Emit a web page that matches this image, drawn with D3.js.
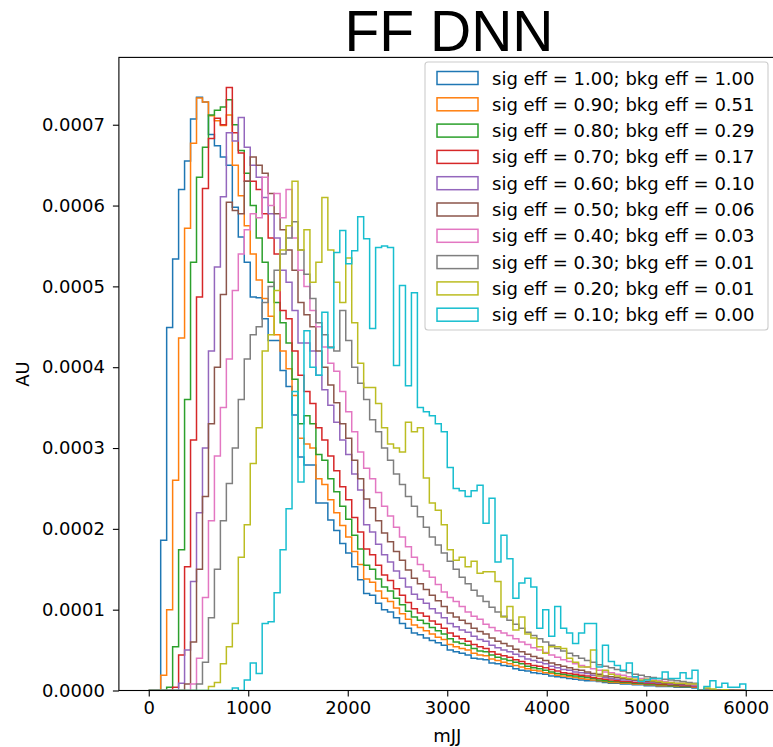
<!DOCTYPE html>
<html><head><meta charset="utf-8">
<script src="https://cdn.jsdelivr.net/npm/d3@7"></script>
<style>body{margin:0;background:#fff}svg{display:block}</style>
</head><body>
<svg id="chart" width="773" height="747"></svg>
<script>
// Histogram: 100 bins of width 60 over mJJ 0..6000. Values in units of 1e-6 AU.
const UNIT = 1e-6;
const binStart = 0, binWidth = 60, nBins = 100;
const sigEff = ["1.00","0.90","0.80","0.70","0.60","0.50","0.40","0.30","0.20","0.10"];
const bkgEff = ["1.00","0.51","0.29","0.17","0.10","0.06","0.03","0.01","0.01","0.00"];
const colors = ["#1f77b4","#ff7f0e","#2ca02c","#d62728","#9467bd","#8c564b","#e377c2","#7f7f7f","#bcbd22","#17becf"];
const xTicks = [0,1000,2000,3000,4000,5000,6000];
const yTicks = [0,0.0001,0.0002,0.0003,0.0004,0.0005,0.0006,0.0007];

const eff100 = [0,0,186,449,534,620,655,707,734,728,
 688,674,660,650,598,561,530,487,486,460,
 433,433,396,376,341,289,279,279,232,232,
 211,198,182,170,153,137,120,118,108,100,
 97,90,83,77,71,69,65,62,59,56,
 50,48,46,44,40,39,38,34,33,31,
 30,27,25,24,22,21,20,18,17,16,
 15,14,13,12,12,11,10,9,9,8,
 8,7,7,6,6,5,5,5,4,4,
 4,3,0,0,1,0,0,1,0,0];
const eff090 = [0,0,19,100,260,436,572,677,733,728,
 711,705,699,712,650,612,575,540,508,485,
 463,440,420,398,365,312,305,300,262,255,
 236,220,204,190,172,156,138,134,123,114,
 110,102,95,88,81,78,74,70,66,63,
 57,54,52,50,46,44,43,39,37,35,
 33,31,29,27,25,24,22,21,19,18,
 17,16,15,14,13,12,11,10,10,9,
 9,8,8,7,7,6,6,6,5,5,
 5,4,0,1,0,1,0,0,0,0];
const eff080 = [0,0,0,4,54,174,360,530,635,672,
 712,718,722,731,700,668,640,600,560,530,
 505,480,455,430,385,330,340,330,292,285,
 262,246,228,212,192,175,155,150,138,128,
 123,114,106,98,91,87,83,78,74,70,
 64,60,58,56,52,49,48,44,41,39,
 37,35,33,30,28,27,25,23,21,20,
 19,18,17,16,15,13,12,11,11,10,
 10,9,9,8,8,7,7,6,6,5,
 5,5,0,0,1,0,0,0,0,0];
const eff070 = [0,0,0,0,4,44,153,310,487,621,
 683,708,700,746,690,665,630,630,620,590,
 560,540,470,460,420,390,370,355,325,310,
 290,272,252,236,214,196,175,168,155,143,
 136,126,118,109,101,96,92,86,82,77,
 71,67,64,61,57,54,52,48,45,43,
 41,38,36,33,31,30,28,26,24,22,
 21,20,19,18,16,15,14,13,12,11,
 11,10,10,9,9,8,8,7,7,6,
 6,5,0,1,1,0,0,0,0,0];
const eff060 = [0,0,0,0,0,9,50,135,220,300,
 420,524,611,690,680,709,672,650,635,610,
 590,560,520,505,470,430,430,420,390,372,
 353,332,310,292,268,248,205,196,181,168,
 159,148,139,128,119,113,108,101,96,90,
 83,79,75,72,67,63,61,56,53,50,
 48,45,42,39,37,35,33,30,28,26,
 25,23,22,21,19,18,16,15,14,13,
 13,12,11,10,10,9,9,8,8,7,
 7,6,0,0,1,0,0,0,0,0];
const eff050 = [0,0,0,0,0,0,8,60,150,240,
 330,400,490,604,594,590,630,660,650,640,
 615,590,570,545,520,480,465,450,420,400,
 378,356,330,312,285,262,237,226,210,195,
 184,172,161,149,139,132,125,118,111,104,
 96,91,87,83,77,73,70,65,61,58,
 55,51,48,45,42,40,37,34,32,30,
 28,26,25,23,21,20,18,17,16,15,
 14,13,12,11,11,10,9,9,8,8,
 7,7,0,1,0,0,0,0,0,0];
const eff040 = [0,0,0,0,0,0,0,8,40,115,
 210,290,350,410,495,540,570,590,585,635,
 600,615,585,620,560,520,500,470,450,425,
 405,395,370,345,320,295,275,262,245,228,
 216,202,190,178,165,156,148,140,131,122,
 115,110,104,97,92,88,82,78,74,71,
 68,64,60,57,53,50,47,44,41,38,
 36,33,31,29,27,25,23,22,20,19,
 17,16,15,14,13,12,11,10,9,9,
 8,7,0,1,0,0,0,0,0,0];
const eff030 = [0,0,0,0,0,0,0,0,8,35,
 90,150,210,256,300,360,410,440,450,480,
 500,520,540,560,580,545,515,485,455,440,
 425,420,470,433,400,380,360,335,320,300,
 285,268,255,240,228,215,202,190,180,170,
 160,150,140,132,124,117,110,103,97,92,
 87,82,77,72,68,64,60,56,52,49,
 46,43,40,37,35,32,30,28,26,24,
 22,20,19,17,16,15,14,13,12,11,
 10,9,0,2,1,0,0,0,0,0];
const eff020 = [0,0,0,0,0,0,0,0,0,0,
 5,10,33,54,83,165,205,281,325,420,
 440,495,545,575,630,545,570,505,530,610,
 545,505,480,535,455,405,375,375,355,325,
 305,300,295,332,320,325,263,232,223,205,
 174,161,165,153,160,145,147,147,135,91,
 104,75,91,70,65,54,46,54,54,52,
 40,35,29,29,50,18,25,20,18,16,
 15,14,13,14,12,11,10,10,9,9,
 8,8,0,3,2,0,1,0,0,0];
const eff010 = [0,0,0,0,0,0,0,0,0,0,
 0,0,0,0,3,0,13,34,21,83,
 85,121,174,225,370,258,445,400,390,468,
 424,542,569,528,544,586,559,448,548,550,
 548,402,501,377,492,350,345,340,330,320,
 276,250,247,240,247,254,207,238,159,192,
 163,114,133,139,128,77,100,67,104,77,
 71,58,71,83,83,29,56,36,31,25,
 34,17,11,13,15,15,23,15,15,22,
 15,25,0,5,12,4,9,4,4,8];

const series = [eff100,eff090,eff080,eff070,eff060,eff050,eff040,eff030,eff020,eff010];

const svg = d3.select("#chart");
const P = {left:118.9, right:775.6, top:57.4, bottom:690.5};
const xMin = -300, xMax = 6300;
const yMaxData = d3.max(series, s => d3.max(s)) * UNIT;
const x = d3.scaleLinear().domain([xMin, xMax]).range([P.left, P.right]);
const y = d3.scaleLinear().domain([0, yMaxData * 1.05]).range([P.bottom, P.top]);

svg.append("rect").attr("width",773).attr("height",747).attr("fill","#fff");

svg.append("defs").append("clipPath").attr("id","clip")
  .append("rect").attr("x",P.left).attr("y",P.top)
  .attr("width",P.right-P.left).attr("height",P.bottom-P.top);

const edges = d3.range(nBins + 1).map(i => binStart + i * binWidth);
function stepPoints(vals){
  const pts = [[edges[0], 0]];
  vals.forEach((v, i) => { pts.push([edges[i], v * UNIT]); pts.push([edges[i+1], v * UNIT]); });
  pts.push([edges[nBins], 0]);
  return pts;
}
const line = d3.line().x(d => x(d[0])).y(d => y(d[1]));
const g = svg.append("g").attr("clip-path","url(#clip)");
series.forEach((s, i) => {
  g.append("path").attr("d", line(stepPoints(s)))
    .attr("fill","none").attr("stroke", colors[i])
    .attr("stroke-width",1.5).attr("stroke-linejoin","miter");
});

const font = "DejaVu Sans, sans-serif";
const fs = 18;
// axes
const xAxis = d3.axisBottom(x).tickValues(xTicks).tickFormat(d3.format("d")).tickSizeOuter(0).tickSize(6).tickPadding(5);
const yAxis = d3.axisLeft(y).tickValues(yTicks).tickFormat(d3.format(".4f")).tickSizeOuter(0).tickSize(6).tickPadding(8);
const gx = svg.append("g").attr("transform",`translate(0,${P.bottom})`).call(xAxis);
const gy = svg.append("g").attr("transform",`translate(${P.left},0)`).call(yAxis);
[gx, gy].forEach(a => {
  a.select(".domain").remove();
  a.selectAll("line").attr("stroke","#000").attr("stroke-width",1.1);
  a.selectAll("text").attr("font-family",font).attr("font-size",fs).attr("fill","#000");
});
// spines
svg.append("rect").attr("x",P.left).attr("y",P.top).attr("width",P.right-P.left).attr("height",P.bottom-P.top)
  .attr("fill","none").attr("stroke","#000").attr("stroke-width",1.1);

// labels
svg.append("text").attr("x",(P.left+P.right)/2).attr("y",742).attr("text-anchor","middle")
  .attr("font-family",font).attr("font-size",fs).text("mJJ");
svg.append("text").attr("transform",`translate(29,${(P.top+P.bottom)/2}) rotate(-90)`).attr("text-anchor","middle")
  .attr("font-family",font).attr("font-size",fs).text("AU");
svg.append("text").attr("x",449).attr("y",51).attr("text-anchor","middle")
  .attr("font-family","Liberation Sans, Arial, sans-serif").attr("font-size",57).text("FF DNN");

// legend
const L = {x:425, y:62, w:343, h:268};
const lg = svg.append("g");
lg.append("rect").attr("x",L.x).attr("y",L.y).attr("width",L.w).attr("height",L.h)
  .attr("rx",3).attr("fill","#fff").attr("fill-opacity",0.8).attr("stroke","#ccc").attr("stroke-width",1.1);
sigEff.forEach((s, i) => {
  const cy = 78 + i * 26.3;
  lg.append("rect").attr("x",437).attr("y",cy-6.5).attr("width",41).attr("height",13)
    .attr("fill","none").attr("stroke",colors[i]).attr("stroke-width",1.5);
  lg.append("text").attr("x",492).attr("y",cy+6.5).attr("font-family",font).attr("font-size",fs)
    .text(`sig eff = ${s}; bkg eff = ${bkgEff[i]}`);
});
</script>
</body></html>
